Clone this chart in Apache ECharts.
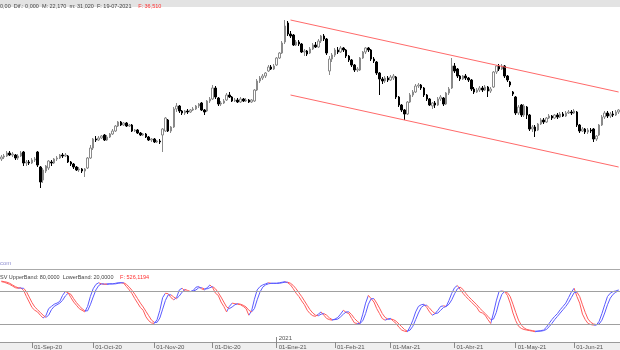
<!DOCTYPE html>
<html>
<head>
<meta charset="utf-8">
<script src="https://cdn.jsdelivr.net/npm/echarts@6/dist/echarts.min.js"></script>
<style>
  html, body { margin: 0; padding: 0; background: #fff; }
  #chart { width: 620px; height: 350px; }
</style>
</head>
<body>
<div id="chart"></div>
<script>
  // first trading day shown, weekdays only
  const firstDay = [2020, 7, 17]
  const monthNames = ['Ene', 'Feb', 'Mar', 'Abr', 'May', 'Jun', 'Jul', 'Ago', 'Sep', 'Oct', 'Nov', 'Dic']

  // [open, close, low, high]
  const candles = [
    [30.6,30.8,30.4,31.0],[30.8,30.9,30.6,31.1],[30.9,31.2,30.8,31.4],[31.2,31.0,30.9,31.4],[31.0,31.1,30.8,31.3],
    [31.0,30.7,30.5,31.1],[30.7,30.9,30.5,31.1],[30.9,31.2,30.8,31.4],[31.3,30.2,29.9,31.4],[30.2,30.3,29.9,30.5],
    [30.3,30.2,30.0,30.5],[30.2,30.5,30.1,30.7],[30.5,30.6,30.3,30.8],[31.3,30.0,29.8,31.4],[29.8,28.3,27.7,29.9],
    [28.5,29.5,28.2,29.7],[29.4,29.9,29.2,30.0],[29.7,30.4,29.5,30.5],[30.3,30.2,29.9,30.5],[30.2,30.6,30.1,30.7],
    [30.6,30.7,30.4,30.9],[30.7,31.0,30.6,31.1],[31.0,30.9,30.7,31.2],[30.9,31.0,30.8,31.2],[30.9,30.3,30.2,31.0],
    [30.3,30.1,29.9,30.4],[30.1,29.8,29.6,30.2],[29.8,29.5,29.4,29.9],[29.5,29.6,29.3,29.8],[29.6,29.4,29.2,29.7],
    [29.4,29.6,28.8,29.7],[29.7,30.7,29.6,30.8],[30.7,31.7,30.6,32.0],[31.7,32.6,31.5,32.7],[32.6,32.5,32.3,32.9],
    [32.5,32.7,32.4,32.9],[32.7,32.9,32.6,33.0],[33.0,32.5,32.4,33.1],[32.5,32.8,32.4,33.0],[32.8,33.1,32.7,33.2],
    [33.1,33.4,33.0,33.6],[33.4,33.9,33.3,34.0],[33.9,34.3,33.8,34.4],[34.3,34.0,33.9,34.4],[34.0,34.2,33.9,34.3],
    [34.2,33.9,33.8,34.3],[33.9,34.0,33.8,34.1],[34.0,33.4,33.3,34.1],[33.4,33.5,33.3,33.6],[33.5,33.2,33.1,33.6],
    [33.2,33.0,32.9,33.3],[33.0,33.1,32.9,33.2],[33.1,32.8,32.7,33.2],[32.8,32.5,32.4,32.9],[32.5,32.6,32.3,32.7],
    [32.6,32.3,32.2,32.7],[32.3,32.4,32.2,32.5],[32.4,32.3,32.1,32.6],[33.0,33.6,31.3,33.7],[33.4,34.7,33.3,34.8],
    [34.5,33.4,33.3,34.6],[33.4,33.8,33.2,33.9],[33.8,35.6,33.7,35.8],[35.6,35.9,35.3,36.2],[35.9,35.4,35.2,36.0],
    [35.4,35.2,35.0,35.5],[35.2,35.4,35.0,35.5],[35.4,35.3,35.1,35.6],[35.3,35.5,35.2,35.6],[35.5,35.6,35.4,35.8],
    [35.6,35.9,35.5,36.0],[35.9,36.1,35.7,36.2],[36.2,35.5,35.4,36.3],[35.5,35.3,35.0,35.6],[35.4,36.4,35.3,36.5],
    [36.4,36.6,36.2,36.8],[36.6,37.7,36.5,38.0],[37.7,36.8,36.6,37.9],[36.7,36.1,35.9,36.8],[36.1,36.2,35.9,36.4],
    [36.2,36.4,36.1,36.6],[36.5,37.0,36.4,37.2],[37.0,36.8,36.7,37.3],[36.8,36.4,36.3,36.9],[36.4,36.5,36.3,36.7],
    [36.5,36.3,36.2,36.7],[36.3,36.6,36.2,36.8],[36.6,36.4,36.3,36.7],[36.4,36.5,36.3,36.7],[36.5,36.3,36.2,36.6],
    [36.3,36.5,36.2,36.6],[36.4,37.5,36.3,37.6],[37.5,38.4,37.4,38.6],[38.4,38.7,38.2,38.9],[38.7,38.9,38.5,39.1],
    [38.9,39.2,38.7,39.3],[39.4,39.8,39.3,40.0],[39.8,39.6,39.5,40.0],[39.6,39.9,39.5,40.1],[40.0,40.7,39.9,40.8],
    [40.7,41.2,40.6,41.3],[41.2,42.2,41.1,42.4],[42.3,43.9,42.1,44.5],[44.2,43.1,42.9,44.4],[43.1,42.9,42.7,43.4],
    [43.0,42.0,41.9,43.1],[42.0,42.3,41.9,42.5],[42.3,42.1,41.9,42.5],[42.1,41.3,41.2,42.2],[41.3,41.4,40.9,41.6],
    [41.4,41.1,40.9,41.5],[41.2,41.6,41.1,41.8],[41.6,42.0,41.5,42.2],[42.0,41.8,41.7,42.3],[41.8,42.4,41.7,42.6],
    [42.4,42.9,42.2,43.0],[42.9,42.6,42.4,43.1],[42.6,41.2,41.0,42.7],[39.4,40.6,39.0,40.9],[40.6,41.0,40.3,41.2],
    [41.0,41.5,40.8,41.7],[41.5,41.3,41.1,41.8],[41.3,41.7,41.2,41.9],[41.7,41.5,41.3,41.8],[41.5,40.9,40.7,41.6],
    [40.9,40.5,40.3,41.0],[40.5,40.0,39.8,40.6],[40.0,39.5,39.3,40.1],[39.5,39.6,39.3,39.8],[39.5,40.7,39.4,40.8],
    [40.7,41.3,40.6,41.4],[41.3,41.7,41.1,41.8],[41.7,41.5,41.3,41.8],[41.5,40.6,40.4,41.6],[40.6,40.4,40.2,40.8],
    [40.3,39.2,39.0,40.4],[39.2,38.6,37.0,39.3],[38.6,38.4,38.1,38.8],[38.4,38.7,38.2,38.9],[38.7,38.5,38.3,38.9],
    [38.5,38.8,38.4,39.0],[38.7,38.9,38.5,39.1],[38.8,36.8,36.6,38.9],[36.8,36.0,35.8,36.9],[36.0,35.5,35.3,36.1],
    [35.5,35.1,34.5,35.6],[35.1,36.3,35.0,36.4],[36.3,37.0,36.2,37.2],[37.0,37.3,36.8,37.5],[37.3,37.9,37.2,38.1],
    [37.9,38.0,37.7,38.2],[38.0,37.7,37.5,38.1],[37.7,37.0,36.8,37.8],[37.0,36.6,36.4,37.1],[36.6,36.0,35.9,36.7],
    [35.9,36.2,35.6,36.3],[36.2,36.0,35.7,36.4],[36.0,36.6,35.9,36.8],[36.6,36.8,36.4,37.0],[36.7,36.1,35.9,36.8],
    [36.1,37.2,36.0,37.3],[37.2,37.6,37.0,37.8],[37.7,39.9,37.6,40.7],[39.9,39.4,39.2,40.2],[39.6,38.9,38.7,39.7],
    [38.9,38.6,38.4,39.0],[38.6,38.9,38.5,39.0],[38.9,38.7,38.5,39.1],[38.7,38.5,38.3,38.8],[38.5,37.6,37.4,38.6],
    [37.6,37.3,37.1,37.8],[37.3,37.5,37.2,37.7],[37.5,37.7,37.3,37.9],[37.7,37.5,37.3,37.9],[37.5,37.8,37.4,38.0],
    [37.8,37.4,36.8,37.9],[37.4,37.6,37.2,37.8],[37.8,39.3,37.7,39.4],[39.3,39.9,39.1,40.0],[39.9,39.6,39.4,40.1],
    [39.6,39.9,39.5,40.1],[39.9,38.9,38.7,40.0],[38.9,38.5,38.3,39.0],[38.3,38.0,37.8,38.4],[37.3,37.1,36.9,37.4],
    [36.8,35.2,35.0,36.9],[35.2,35.8,35.0,36.0],[36.0,35.0,34.8,36.1],[35.0,35.9,34.8,36.1],[35.8,35.0,34.6,35.9],
    [35.0,33.6,33.4,35.1],[33.6,33.8,33.3,34.0],[33.8,33.4,32.8,34.0],[33.5,34.1,33.4,34.2],[34.1,34.5,34.0,34.7],
    [34.5,34.3,34.1,34.7],[34.3,34.7,34.2,34.8],[34.7,34.9,34.6,35.1],[34.9,34.7,34.5,35.0],[34.7,35.0,34.6,35.1],
    [35.0,34.8,34.6,35.2],[34.8,35.1,34.7,35.3],[35.1,34.9,34.8,35.3],[34.9,35.2,34.8,35.4],[35.2,35.3,35.1,35.5],
    [35.3,35.2,35.0,35.5],[35.2,35.4,35.1,35.6],[35.3,34.0,33.8,35.4],[34.0,33.4,33.2,34.1],[33.4,33.6,33.3,33.8],
    [33.6,33.3,33.1,33.7],[33.3,33.5,33.1,33.7],[33.5,33.4,33.2,33.7],[33.6,32.6,32.3,33.7],[32.6,32.9,32.4,33.0],
    [33.0,34.0,32.9,34.1],[34.0,34.8,33.9,35.0],[34.8,35.2,34.6,35.4],[35.2,34.9,34.7,35.4],[34.9,35.1,34.7,35.3],
    [35.1,35.0,34.8,35.4],[35.0,35.3,34.9,35.5],[35.3,35.5,35.1,35.6]
  ]

  // stochastic %K and %D
  const stochK = [
    97,96,94,92,89,86,85,86,81,70, 60,50,45,42,36,31,35,48,52,56,
    58,61,72,79,77,68,60,54,48,45, 42,52,70,84,92,95,93,92,93,93,
    93,94,95,95,94,88,82,75,66,58, 50,45,33,26,22,21,28,45,68,76,
    75,68,64,68,82,85,80,79,79,81, 87,88,84,82,86,91,86,76,72,60,
    52,42,52,58,57,56,55,52,48,36, 44,65,82,88,91,93,95,94,94,94,
    95,96,97,95,91,84,76,70,62,55, 45,39,35,34,38,42,36,30,28,27,
    29,32,38,45,41,39,30,22,21,21, 38,58,72,66,60,48,39,30,27,29,
    30,25,21,14,9,7,6,15,27,42, 52,55,56,50,42,36,39,45,52,53,
    52,63,76,86,90,83,76,70,65,60, 55,50,42,40,36,28,21,40,62,79,
    80,79,72,58,40,26,16,12,10,9, 8,7,6,7,8,9,14,21,28,34,
    39,46,52,58,68,78,85,70,58,38, 28,21,19,18,18,25,39,55,70,76,
    79,80,82
  ]
  const stochD = [
    98,97,96,94,91,88,86,85,85,79, 69,59,51,46,41,36,32,36,46,52,
    55,58,63,71,76,74,66,59,53,48, 44,44,55,69,82,90,93,93,92,93,
    93,93,94,95,95,92,87,81,74,66, 58,51,43,35,27,23,23,31,47,63,
    73,73,69,66,71,78,83,81,79,80, 82,86,86,84,84,86,88,84,77,69,
    60,51,48,51,55,57,56,54,51,45, 42,48,64,78,87,91,93,94,94,94,
    94,95,96,96,94,90,84,77,70,62, 54,46,40,36,35,38,39,36,31,28,
    28,29,33,38,42,42,37,30,25,21, 26,39,56,66,66,58,49,39,32,29,
    29,28,25,20,15,10,7,9,16,28, 40,50,54,54,49,43,39,40,45,50,
    52,56,64,75,84,87,83,76,70,65, 60,55,49,44,39,34,28,29,41,60,
    74,79,77,70,56,41,27,18,13,10, 9,8,7,7,7,8,10,15,21,28,
    34,40,46,52,59,68,77,78,70,55, 41,29,23,20,19,20,27,40,55,67,
    74,78,80
  ]
  const bandLevels = [80, 20]

  // channel ends: [day index, price]
  const channelUpper = [[104, 44.5], [222, 37.3]]
  const channelLower = [[104, 37.0], [222, 29.8]]

  const RED = '#ff5a5a'
  const BLUE = '#5a5aff'

  const dates = []
  const d = new Date(Date.UTC(firstDay[0], firstDay[1], firstDay[2]))
  while (dates.length < candles.length) {
    const wd = d.getUTCDay()
    if (wd !== 0 && wd !== 6) dates.push(d.toISOString().slice(0, 10))
    d.setUTCDate(d.getUTCDate() + 1)
  }
  const isMonthStart = (i) => i > 0 && dates[i].slice(5, 7) !== dates[i - 1].slice(5, 7)
  const isYearStart = (i) => i > 0 && dates[i].slice(0, 4) !== dates[i - 1].slice(0, 4)

  // colour each step by direction: rising blue, falling red
  function slopePieces(vals) {
    const pieces = []
    for (let i = 1; i < vals.length; i++) {
      const color = vals[i] >= vals[i - 1] ? BLUE : RED
      const last = pieces[pieces.length - 1]
      if (last && last.color === color) last.lte = i
      else pieces.push(i === 1 ? { gte: 0, lte: i, color } : { gt: i - 1, lte: i, color })
    }
    return pieces
  }

  const font = 'Liberation Sans, Arial, sans-serif'
  const chLine = (pts) => [{ coord: [dates[pts[0][0]], pts[0][1]] }, { coord: [dates[pts[1][0]], pts[1][1]] }]

  const option = {
    animation: false,
    backgroundColor: '#ffffff',
    grid: [
      { left: 0, right: 0, top: 8, height: 257, outerBoundsMode: 'none' },
      { left: 0, right: 0, top: 270, height: 72, outerBoundsMode: 'none' },
    ],
    xAxis: [
      { type: 'category', gridIndex: 0, data: dates, show: false },
      {
        type: 'category', gridIndex: 1, data: dates, position: 'bottom',
        axisLine: { show: true, onZero: false, lineStyle: { color: '#9a9a9a', width: 1 } },
        axisTick: { show: true, alignWithLabel: true, length: 6, interval: (i) => isMonthStart(i), lineStyle: { color: '#8a8a8a' } },
        axisLabel: {
          interval: (i) => isMonthStart(i),
          formatter: (v) => '01-' + monthNames[+v.slice(5, 7) - 1] + '-' + v.slice(2, 4),
          fontSize: 6, fontFamily: font, color: '#555', align: 'left', margin: 2, padding: [0, 0, 0, 2],
        },
        splitLine: { show: false },
      },
      {
        type: 'category', gridIndex: 1, data: dates, position: 'bottom',
        axisLine: { show: false, onZero: false },
        axisTick: { show: true, inside: true, alignWithLabel: true, length: 5, interval: (i) => isYearStart(i), lineStyle: { color: '#8a8a8a' } },
        axisLabel: {
          inside: true, interval: (i) => isYearStart(i), formatter: (v) => v.slice(0, 4),
          fontSize: 6, fontFamily: font, color: '#555', align: 'left', margin: 1, padding: [0, 0, 0, 2],
        },
        splitLine: { show: false },
      },
    ],
    yAxis: [
      { type: 'value', gridIndex: 0, min: 20, max: 45.7, show: false, splitLine: { show: false } },
      { type: 'value', gridIndex: 1, min: -12.7, max: 118.2, show: false, splitLine: { show: false } },
    ],
    visualMap: [
      { type: 'piecewise', show: false, dimension: 0, seriesIndex: 1, pieces: slopePieces(stochK) },
      { type: 'piecewise', show: false, dimension: 0, seriesIndex: 2, pieces: slopePieces(stochD) },
    ],
    graphic: [
      { type: 'rect', z: -10, silent: true, shape: { x: 0, y: 0, width: 620, height: 7 }, style: { fill: '#e3e3e3' } },
      { type: 'rect', z: -10, silent: true, shape: { x: 0, y: 342, width: 620, height: 8 }, style: { fill: '#efefef' } },
      { type: 'line', silent: true, shape: { x1: 0, y1: 269.5, x2: 620, y2: 269.5 }, style: { stroke: '#aaaaaa', lineWidth: 1 } },
      {
        type: 'text', x: 0, y: 0.5, silent: true,
        style: {
          text: '{a|0,00  Dif.: 0,000  M: 22,170  m: 31,020  F: 19-07-2021}  {b|F: 36,510}',
          rich: {
            a: { fontSize: 5.5, fontFamily: font, fill: '#444' },
            b: { fontSize: 5.5, fontFamily: font, fill: '#ff3030' },
          },
        },
      },
      {
        type: 'text', x: 0, y: 271, silent: true,
        style: {
          text: '{a|SV UpperBand: 80,0000  LowerBand: 20,0000}  {b|F: 526,1194}',
          rich: {
            a: { fontSize: 5.5, fontFamily: font, fill: '#444' },
            b: { fontSize: 5.5, fontFamily: font, fill: '#ff3030' },
          },
        },
      },
      { type: 'text', x: 0, y: 260, silent: true, style: { text: 'com', fontSize: 6, fontFamily: font, fill: '#8f8fd0' } },
    ],
    series: [
      {
        type: 'candlestick', xAxisIndex: 0, yAxisIndex: 0, data: candles, barWidth: 2,
        itemStyle: { color: '#ffffff', color0: '#000000', borderColor: '#8a8a8a', borderColor0: '#000000', borderWidth: 1 },
        markLine: {
          silent: true, symbol: ['none', 'none'], label: { show: false },
          lineStyle: { color: '#ff6a6a', width: 1, type: 'solid' },
          data: [chLine(channelUpper), chLine(channelLower)],
        },
      },
      {
        type: 'line', xAxisIndex: 1, yAxisIndex: 1, data: stochK, symbol: 'none', showSymbol: false,
        lineStyle: { width: 1 },
        markLine: {
          silent: true, symbol: ['none', 'none'], label: { show: false },
          lineStyle: { color: '#a0a0a0', width: 1, type: 'solid' },
          data: bandLevels.map((v) => ({ yAxis: v })),
        },
      },
      { type: 'line', xAxisIndex: 1, yAxisIndex: 1, data: stochD, symbol: 'none', showSymbol: false, lineStyle: { width: 1 } },
    ],
  }

  const chart = echarts.init(document.getElementById('chart'))
  chart.setOption(option)
</script>
</body>
</html>
